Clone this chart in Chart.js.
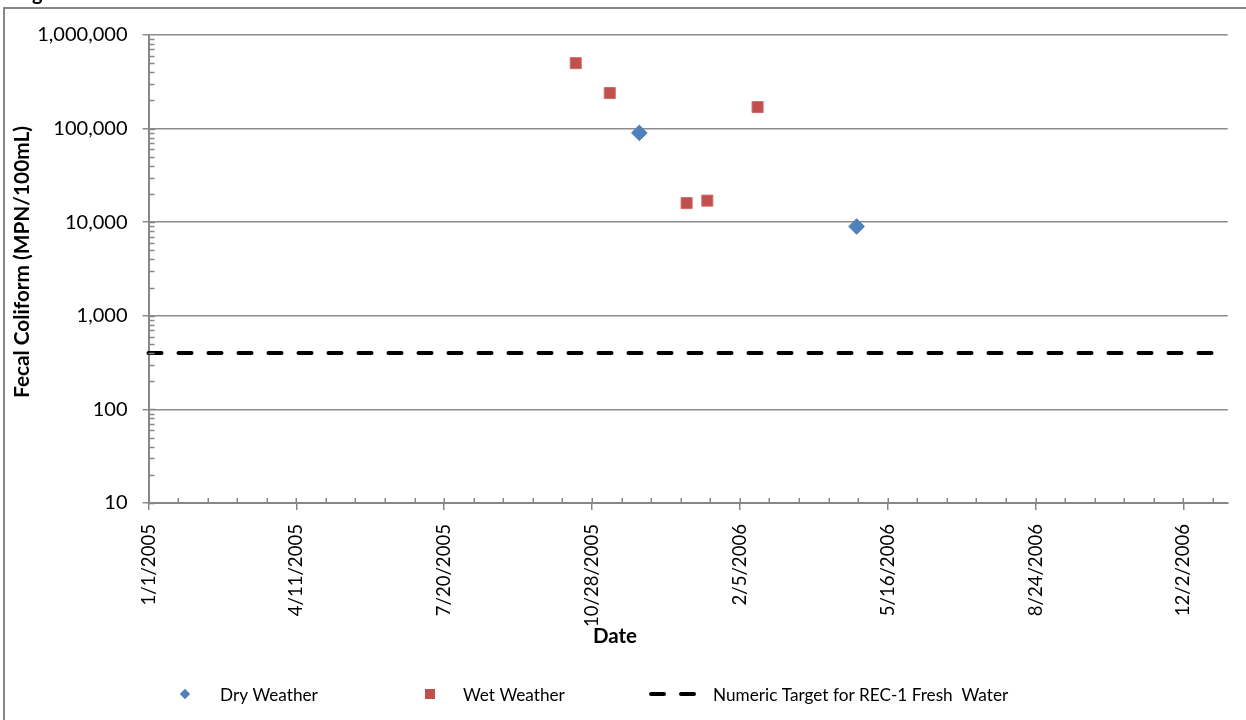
<!DOCTYPE html>
<html>
<head>
<meta charset="utf-8">
<script src="https://cdn.jsdelivr.net/npm/chart.js@4/dist/chart.umd.min.js"></script>
<style>
  html, body { margin: 0; padding: 0; background: #ffffff; }
  canvas { display: block; }
</style>
</head>
<body>
<canvas id="chart" width="1246" height="720"></canvas>
<script>
// ---- data ----------------------------------------------------------------
const seriesNames = ['Dry Weather', 'Wet Weather', 'Numeric Target for REC-1 Fresh  Water'];

const dryDates  = ['2005-11-29', '2006-04-25'];
const dryValues = [90000, 9000];

const wetDates  = ['2005-10-17', '2005-11-09', '2005-12-31', '2006-01-14', '2006-02-17'];
const wetValues = [500000, 240000, 16000, 17000, 170000];

const targetDates  = ['2005-01-01', '2007-01-01'];
const targetValues = [400, 400];

// axis range and tick labels
const axisStart = '2005-01-01';
const axisEnd   = '2007-01-01';
const xTickDates = ['2005-01-01', '2005-04-11', '2005-07-20', '2005-10-28',
                    '2006-02-05', '2006-05-16', '2006-08-24', '2006-12-02'];
const xMinorStepDays = 20;
const yTickValues = [10, 100, 1000, 10000, 100000, 1000000];

const xTitle = 'Date';
const yTitle = 'Fecal Coliform (MPN/100mL)';

// ---- helpers -------------------------------------------------------------
const DAY = 86400000;
const t0 = Date.parse(axisStart + 'T00:00:00Z');
function dayIndex(s) { return Math.round((Date.parse(s + 'T00:00:00Z') - t0) / DAY); }
function fmtDate(v) {
  const d = new Date(t0 + v * DAY);
  return (d.getUTCMonth() + 1) + '/' + d.getUTCDate() + '/' + d.getUTCFullYear();
}
function pts(dates, values) { return dates.map((d, i) => ({ x: dayIndex(d), y: values[i] })); }

const BLUE = '#4F81BD';
const RED = '#C0504D';
const AXIS_GRAY = '#878787';
const FONT = 'Lato';

// ---- plugins -------------------------------------------------------------
// outer frame of the figure plus the clipped caption line above it
const framePlugin = {
  id: 'frame',
  beforeDraw(chart) {
    const ctx = chart.ctx;
    ctx.save();
    ctx.fillStyle = '#ffffff';
    ctx.fillRect(0, 0, chart.width, chart.height);
    ctx.strokeStyle = AXIS_GRAY;
    ctx.lineWidth = 2;
    ctx.strokeRect(4, 8, chart.width + 40, chart.height + 40);
    ctx.font = 'bold 20px ' + FONT;
    ctx.fillStyle = '#000';
    ctx.textBaseline = 'alphabetic';
    const x0 = 32 - ctx.measureText('Fi').width;
    ctx.fillText('Figure', x0, -0.5);
    ctx.restore();
  }
};

// inward major/minor tick marks, axis titles and the legend row
const decorPlugin = {
  id: 'decor',
  afterDraw(chart) {
    const ctx = chart.ctx;
    const xs = chart.scales.x, ys = chart.scales.y;
    const area = chart.chartArea;
    ctx.save();
    ctx.strokeStyle = AXIS_GRAY;
    ctx.lineWidth = 1.5;
    ctx.beginPath();
    // y axis: log minor ticks + inner half of major ticks
    for (let d = ys.min; d < ys.max; d *= 10) {
      for (let k = 1; k <= 9; k++) {
        const y = Math.round(ys.getPixelForValue(k * d)) + 0.5;
        ctx.moveTo(area.left, y);
        ctx.lineTo(area.left + (k === 1 ? 6.5 : 6), y);
      }
    }
    // x axis: minor ticks every 20 days (majors share the same inner stub)
    for (let v = xs.min; v <= xs.max; v += xMinorStepDays) {
      const x = Math.round(xs.getPixelForValue(v)) + 0.25;
      ctx.moveTo(x, area.bottom);
      ctx.lineTo(x, area.bottom - 5);
    }
    ctx.stroke();

    // axis titles
    ctx.fillStyle = '#000';
    ctx.font = 'bold 20.5px ' + FONT;
    ctx.textAlign = 'center';
    ctx.textBaseline = 'middle';
    ctx.fillText(xTitle, 615, 636);
    ctx.save();
    ctx.translate(22, 262);
    ctx.rotate(-Math.PI / 2);
    ctx.font = 'bold 20.8px ' + FONT;
    ctx.fillText(yTitle, 0, 0);
    ctx.restore();

    // legend row
    const ly = 694;
    const ds = chart.data.datasets;
    ctx.font = '17.2px ' + FONT;
    ctx.textAlign = 'left';
    ctx.fillStyle = ds[0].backgroundColor;
    Chart.helpers.drawPoint(ctx, { pointStyle: 'rectRot', radius: 5.2, rotation: 0, borderWidth: 0 }, 185, ly);
    ctx.fillStyle = ds[1].backgroundColor;
    Chart.helpers.drawPoint(ctx, { pointStyle: 'rect', radius: 7.1, rotation: 0, borderWidth: 0 }, 430, ly);
    ctx.strokeStyle = '#000';
    ctx.lineWidth = 4;
    ctx.lineCap = 'round';
    ctx.setLineDash(ds[2].borderDash);
    ctx.beginPath();
    ctx.moveTo(651, ly);
    ctx.lineTo(695, ly);
    ctx.stroke();
    ctx.setLineDash([]);
    ctx.fillStyle = '#000';
    ctx.fillText(ds[0].label, 220, ly + 1);
    ctx.fillText(ds[1].label, 463, ly + 1);
    ctx.fillText(ds[2].label, 713, ly + 1);
    ctx.restore();
  }
};

// ---- chart ---------------------------------------------------------------
new Chart(document.getElementById('chart'), {
  type: 'scatter',
  data: {
    datasets: [
      {
        label: seriesNames[0],
        data: pts(dryDates, dryValues),
        pointStyle: 'rectRot',
        pointRadius: 7.8,
        backgroundColor: BLUE,
        borderColor: BLUE,
        borderWidth: 1
      },
      {
        label: seriesNames[1],
        data: pts(wetDates, wetValues),
        pointStyle: 'rect',
        pointRadius: 7.8,
        backgroundColor: RED,
        borderColor: '#d26a67',
        borderWidth: 1
      },
      {
        type: 'line',
        label: seriesNames[2],
        data: pts(targetDates, targetValues),
        borderColor: '#000000',
        backgroundColor: '#000000',
        borderWidth: 4,
        borderDash: [13, 17],
        borderCapStyle: 'round',
        pointRadius: 0,
        fill: false,
        showLine: true,
        clip: 4
      }
    ]
  },
  options: {
    responsive: false,
    animation: false,
    events: [],
    layout: { padding: { left: 4, top: 35, right: 18.3, bottom: 67 } },
    plugins: {
      legend: { display: false },
      tooltip: { enabled: false },
      title: { display: false }
    },
    scales: {
      x: {
        type: 'linear',
        min: dayIndex(axisStart),
        max: dayIndex(axisEnd),
        afterBuildTicks: s => { s.ticks = xTickDates.map(d => ({ value: dayIndex(d) })); },
        afterFit: s => { s.height = 150; },
        ticks: {
          autoSkip: false,
          minRotation: 90,
          maxRotation: 90,
          padding: 14,
          color: '#000',
          font: { family: FONT, size: 18.6 },
          callback: v => fmtDate(v)
        },
        grid: { drawOnChartArea: false, drawTicks: true, tickLength: 7, color: AXIS_GRAY, lineWidth: 1.5 },
        border: { display: true, color: AXIS_GRAY, width: 2 }
      },
      y: {
        type: 'logarithmic',
        min: 10,
        max: 1000000,
        afterBuildTicks: s => { s.ticks = yTickValues.map(v => ({ value: v })); },
        afterFit: s => { s.width = 144.5; },
        ticks: {
          padding: 15,
          color: '#000',
          font: { family: FONT, size: 20 },
          callback: v => Number(v).toLocaleString('en-US')
        },
        grid: { color: '#8c8c8c', lineWidth: 1.5, drawTicks: true, tickLength: 6 },
        border: { display: true, color: AXIS_GRAY, width: 2 }
      }
    }
  },
  plugins: [framePlugin, decorPlugin]
});
</script>
</body>
</html>
